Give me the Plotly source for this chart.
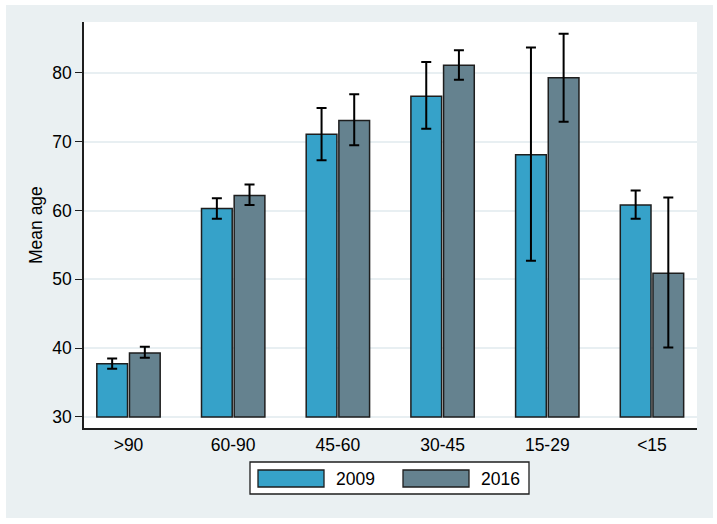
import plotly.graph_objects as go

categories = [">90", "60-90", "45-60", "30-45", "15-29", "<15"]
mean_2009 = [37.75, 60.3, 71.1, 76.6, 68.1, 60.8]
lo_2009 = [37.0, 58.8, 67.3, 71.9, 52.7, 58.8]
hi_2009 = [38.5, 61.8, 74.9, 81.6, 83.7, 62.9]
mean_2016 = [39.3, 62.2, 73.1, 81.1, 79.3, 50.9]
lo_2016 = [38.6, 60.8, 69.5, 79.0, 72.9, 40.1]
hi_2016 = [40.2, 63.8, 76.9, 83.3, 85.7, 61.9]
series_names = ["2009", "2016"]
y_ticks = [30, 40, 50, 60, 70, 80]
base_value = 30

W, H = 717, 524
L, R, T, B = 84, 20, 22, 96
PW, PH = W - L - R, H - T - B

def px(x):
    return (x - L) / PW

def py(y):
    return (H - B - y) / PH

col09 = "#36a2c9"
col16 = "#65828f"
edge = "#1e1e1e"
font = "Liberation Sans, Arial, sans-serif"
fs = 17.5

fig = go.Figure()
for name, means, lo, hi, col in [
    (series_names[0], mean_2009, lo_2009, hi_2009, col09),
    (series_names[1], mean_2016, lo_2016, hi_2016, col16),
]:
    fig.add_trace(go.Bar(
        x=categories,
        y=[m - base_value for m in means],
        base=base_value,
        name=name,
        marker=dict(color=col, line=dict(color=edge, width=1.5)),
        error_y=dict(
            type="data", symmetric=False,
            array=[h - m for h, m in zip(hi, means)],
            arrayminus=[m - l for m, l in zip(means, lo)],
            color="black", thickness=2, width=5,
        ),
        showlegend=False,
    ))

shapes = [
    dict(type="rect", xref="paper", yref="paper", x0=px(6), x1=px(713), y0=py(518), y1=py(5),
         fillcolor="#eaf0f2", line=dict(width=0), layer="below"),
    dict(type="rect", xref="paper", yref="paper", x0=0, x1=1, y0=0, y1=1,
         fillcolor="white", line=dict(width=0), layer="below"),
    # legend box
    dict(type="rect", xref="paper", yref="paper", x0=px(250), x1=px(529), y0=py(494), y1=py(462),
         fillcolor="white", line=dict(color=edge, width=1.3)),
    dict(type="rect", xref="paper", yref="paper", x0=px(258), x1=px(324), y0=py(487), y1=py(470),
         fillcolor=col09, line=dict(color=edge, width=1.3)),
    dict(type="rect", xref="paper", yref="paper", x0=px(403), x1=px(469), y0=py(487), y1=py(470),
         fillcolor=col16, line=dict(color=edge, width=1.3)),
]

annotations = [
    dict(text=series_names[0], xref="paper", yref="paper", x=px(334), y=py(478.5),
         xanchor="left", yanchor="middle", showarrow=False, font=dict(size=fs, color="black", family=font)),
    dict(text=series_names[1], xref="paper", yref="paper", x=px(479), y=py(478.5),
         xanchor="left", yanchor="middle", showarrow=False, font=dict(size=fs, color="black", family=font)),
    dict(text="Mean age", xref="paper", yref="paper", x=px(36), y=0.5, textangle=-90,
         xanchor="center", yanchor="middle", showarrow=False, font=dict(size=fs, color="black", family=font)),
]

fig.update_layout(
    width=W, height=H,
    margin=dict(l=L, r=R, t=T, b=B, pad=0),
    paper_bgcolor="white", plot_bgcolor="white",
    barmode="group", bargap=0.376, bargroupgap=0.06,
    font=dict(family=font, size=fs, color="black"),
    shapes=shapes, annotations=annotations,
    showlegend=False,
    xaxis=dict(
        range=[-0.425, 5.43], showline=True, linecolor=edge, linewidth=1.5,
        ticks="", showgrid=False, tickfont=dict(size=fs), fixedrange=True,
    ),
    yaxis=dict(
        range=[28.4, 87.4], tickvals=y_ticks, showline=True, linecolor=edge, linewidth=1.5,
        ticks="outside", ticklen=7, tickwidth=1.3, tickcolor=edge,
        showgrid=True, gridcolor="#e8eff2", gridwidth=1.5, zeroline=False,
        tickfont=dict(size=fs), fixedrange=True,
    ),
)

fig.write_html("out.html", config={"displayModeBar": False},
               post_script="document.body.style.margin='0';")
